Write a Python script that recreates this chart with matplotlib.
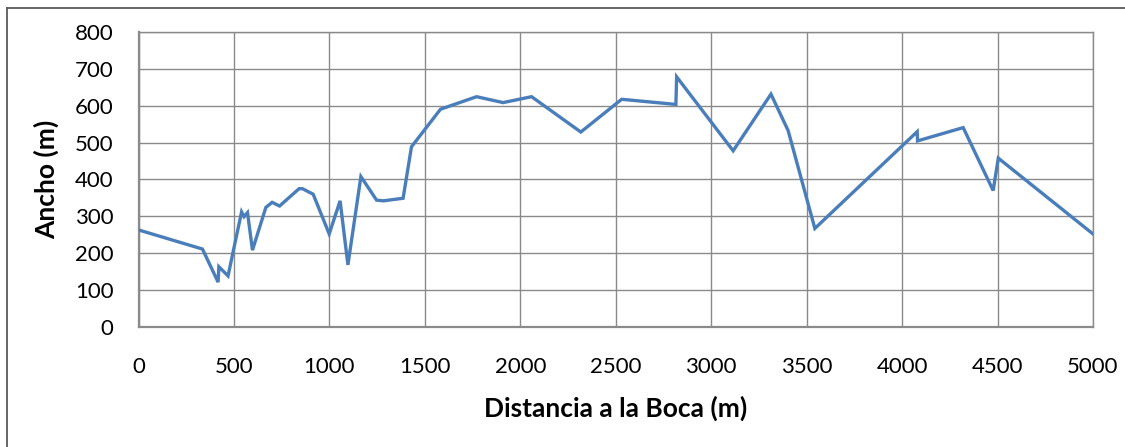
import matplotlib
matplotlib.use("Agg")
import matplotlib.pyplot as plt
from matplotlib.lines import Line2D

distancia = [0, 335, 417, 421, 469, 540, 553, 571, 597, 667, 700, 739, 841, 859,
             915, 999, 1056, 1097, 1165, 1247, 1282, 1386, 1430, 1582, 1771, 1910,
             2059, 2317, 2531, 2815, 2819, 3115, 3313, 3403, 3543, 4079, 4081,
             4320, 4477, 4504, 5000]
ancho = [263, 211, 121, 163, 138, 312, 299, 310, 208, 324, 338, 328, 375, 375,
         360, 252, 342, 168, 408, 344, 342, 349, 489, 591, 625, 609,
         625, 529, 618, 604, 679, 478, 632, 533, 267, 530, 505,
         541, 370, 458, 252]
x_ticks = [0, 500, 1000, 1500, 2000, 2500, 3000, 3500, 4000, 4500, 5000]
y_ticks = [0, 100, 200, 300, 400, 500, 600, 700, 800]

plt.rcParams['font.family'] = ['Lato', 'DejaVu Sans']

W, H = 1125, 447
fig = plt.figure(figsize=(W / 100, H / 100), dpi=100)
ax = fig.add_axes([138.5 / W, 1 - 326.7 / H, (1093 - 138.5) / W, (326.7 - 32.3) / H])

ax.plot(distancia, ancho, color='#4a7ebb', linewidth=2.4, solid_joinstyle='miter', zorder=3)
ax.set_xlim(0, 5000)
ax.set_ylim(0, 800)
ax.set_xticks(x_ticks)
ax.set_yticks(y_ticks)
ax.grid(True, color='#8a8a8a', linewidth=1.0)
ax.set_axisbelow(True)
for s in ax.spines.values():
    s.set_color('#8a8a8a')
    s.set_linewidth(1.0)
ax.spines['bottom'].set_linewidth(1.6)
ax.spines['left'].set_linewidth(1.6)
ax.tick_params(length=0, labelsize=16, colors='black')
ax.tick_params(axis='x', pad=22)
ax.tick_params(axis='y', pad=18)

ax.set_xlabel('Distancia a la Boca (m)', fontsize=19, fontweight='bold', labelpad=13)
ax.set_ylabel('Ancho (m)', fontsize=19, fontweight='bold', labelpad=11)

# outer chart border (top and left visible)
fig.add_artist(Line2D([7 / W, 1.0], [1 - 8 / H, 1 - 8 / H], transform=fig.transFigure,
                      color='#5a5a5a', linewidth=1.3))
fig.add_artist(Line2D([7 / W, 7 / W], [0.0, 1 - 8 / H], transform=fig.transFigure,
                      color='#5a5a5a', linewidth=1.3))

fig.savefig('out.png', dpi=100)
